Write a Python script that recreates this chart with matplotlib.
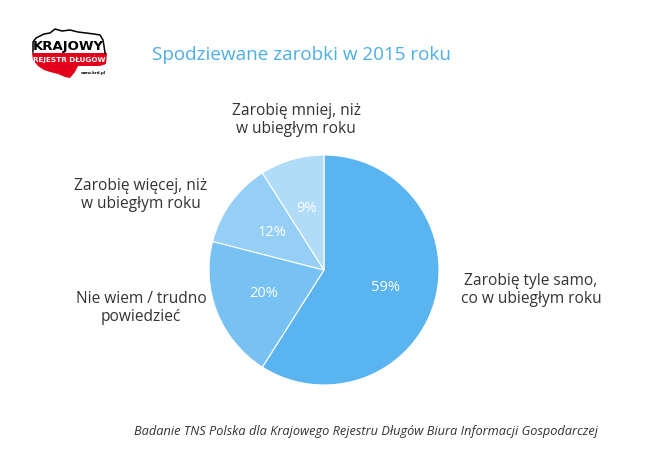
import matplotlib
matplotlib.use('Agg')
import matplotlib.pyplot as plt
import matplotlib.patches as patches

# data
labels = ['Zarobię tyle samo,\nco w ubiegłym roku', 'Nie wiem / trudno\npowiedzieć',
          'Zarobię więcej, niż\nw ubiegłym roku', 'Zarobię mniej, niż\nw ubiegłym roku']
values = [59, 20, 12, 9]
colors = ['#5ab4f0', '#78c2f3', '#95cff6', '#b1dcf8']

plt.rcParams['font.family'] = ['Open Sans', 'DejaVu Sans']

W, H = 645, 475
fig = plt.figure(figsize=(W / 100, H / 100), dpi=100)
fig.patch.set_facecolor('white')

# pie centred at (324, 270) px, radius 115 px
cx, cy, r = 324, 270, 115
ax = fig.add_axes([(cx - r) / W, (H - cy - r) / H, 2 * r / W, 2 * r / H])
wedges, texts, autotexts = ax.pie(values, colors=colors, startangle=90, counterclock=False,
                                  autopct=lambda p: '%d%%' % round(p), pctdistance=0.56,
                                  wedgeprops=dict(edgecolor='white', linewidth=0.8),
                                  textprops=dict(color='white', fontsize=10.5))
ax.set_xlim(-1, 1)
ax.set_ylim(-1, 1)
ax.set_aspect('equal')


def px(x, y):
    return x / W, 1 - y / H


# category labels
label_pos = [(531, 290), (141, 308), (141, 195), (296, 120)]
for lab, (x, y) in zip(labels, label_pos):
    fig.text(*px(x, y), lab, ha='center', va='center', fontsize=11.2,
             color='#333333', linespacing=1.2)

# title
fig.text(*px(302, 55), 'Spodziewane zarobki w 2015 roku', ha='center', va='center',
         fontsize=13.6, color='#4daee8')

# footer
fig.text(*px(366, 432), 'Badanie TNS Polska dla Krajowego Rejestru Długów Biura Informacji Gospodarczej',
         ha='center', va='center', fontsize=9.2, style='italic', color='#333333')

# logo (rough)
lax = fig.add_axes([0, 0, 1, 1])
lax.set_xlim(0, W)
lax.set_ylim(H, 0)
lax.axis('off')
outline = [(33, 52), (33, 42), (36, 38), (44, 34), (50, 33), (55, 29), (62, 31),
           (70, 30), (78, 32), (86, 33), (94, 34), (100, 35), (103, 40), (104, 46), (105, 53)]
lax.plot([p[0] for p in outline], [p[1] for p in outline], color='black', lw=1.1)
red = patches.Polygon([(32, 53), (107, 53), (106, 64), (100, 66), (78, 66), (75, 72),
                       (70, 78), (65, 77), (58, 74), (50, 72), (44, 70), (38, 66), (33, 60)],
                      closed=True, facecolor='#e3001b', edgecolor='none')
lax.add_patch(red)
lax.text(68, 46.5, 'KRAJOWY', ha='center', va='center', fontsize=9.5,
         fontweight='bold', color='black', family='DejaVu Sans')
lax.text(69, 59, 'REJESTR DŁUGÓW', ha='center', va='center', fontsize=5.2,
         fontweight='bold', color='white', family='DejaVu Sans')
lax.text(93, 73, 'www.krd.pl', ha='center', va='center', fontsize=2.8,
         fontweight='bold', color='black', family='DejaVu Sans')

fig.savefig('out.png', dpi=100, facecolor='white')
